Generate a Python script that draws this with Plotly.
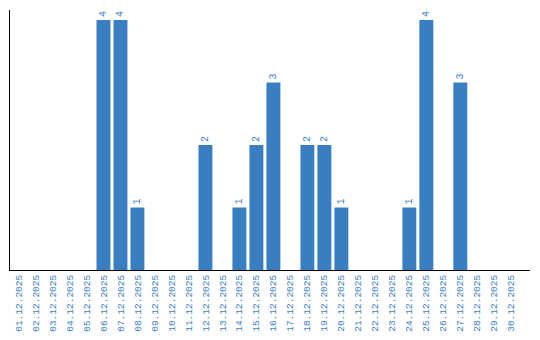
import plotly.graph_objects as go

dates = [f"{d:02d}.12.2025" for d in range(1, 31)]
values = [0, 0, 0, 0, 0, 4, 4, 1, 0, 0,
          0, 2, 0, 1, 2, 3, 0, 2, 2, 1,
          0, 0, 0, 1, 4, 0, 3, 0, 0, 0]
labels = [str(v) if v else "" for v in values]

BLUE = "#3a7ec2"
FONT = "Liberation Mono"

fig = go.Figure(go.Bar(
    x=dates, y=values, text=labels,
    marker=dict(color=BLUE, line=dict(width=0)),
    textposition="outside", textangle=-90,
    textfont=dict(family=FONT, size=10, color=BLUE),
    cliponaxis=False,
))
fig.update_layout(
    width=540, height=340,
    margin=dict(l=10, r=10, t=10, b=70),
    paper_bgcolor="white", plot_bgcolor="white",
    bargap=0.18, showlegend=False,
    font=dict(family=FONT, size=10, color=BLUE),
)
fig.update_xaxes(type="category", range=[-0.5, 30.1], tickangle=-90,
                 automargin=False,
                 showline=True, linecolor="black", linewidth=1,
                 showgrid=False, ticks="", tickfont=dict(family=FONT, size=9.5, color=BLUE))
fig.update_yaxes(range=[0, 4.16], showline=True, linecolor="black", linewidth=1,
                 automargin=False,
                 showgrid=False, zeroline=False, showticklabels=False, ticks="")
fig.write_html("out.html")
